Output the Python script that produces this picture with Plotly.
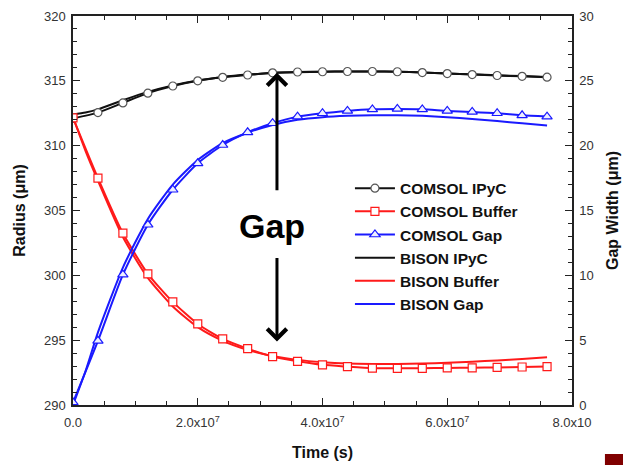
import plotly.graph_objects as go

# ---------------- data ----------------
time_comsol = [0.0, 0.4e7, 0.8e7, 1.2e7, 1.6e7, 2.0e7, 2.4e7, 2.8e7, 3.2e7, 3.6e7,
               4.0e7, 4.4e7, 4.8e7, 5.2e7, 5.6e7, 6.0e7, 6.4e7, 6.8e7, 7.2e7, 7.6e7]
comsol_ipyc = [312.1, 312.55, 313.3, 314.05, 314.6, 315.0, 315.27, 315.45, 315.62, 315.68,
               315.7, 315.72, 315.72, 315.7, 315.64, 315.56, 315.48, 315.41, 315.35, 315.28]
comsol_buffer = [312.15, 307.5, 303.25, 300.12, 297.95, 296.25, 295.1, 294.35, 293.73, 293.37,
                 293.1, 292.96, 292.84, 292.83, 292.83, 292.86, 292.87, 292.9, 292.93, 292.96]
comsol_gap = [0.2, 4.95, 10.05, 13.9, 16.6, 18.64, 20.05, 21.03, 21.73, 22.24,
              22.5, 22.68, 22.8, 22.83, 22.8, 22.68, 22.6, 22.5, 22.34, 22.24]

time_bison = [0.0, 0.2e7, 0.4e7, 0.8e7, 1.2e7, 1.6e7, 2.0e7, 2.4e7, 2.8e7, 3.2e7, 3.6e7,
              4.0e7, 4.4e7, 4.8e7, 5.2e7, 5.6e7, 6.0e7, 6.4e7, 6.8e7, 7.2e7, 7.6e7]
bison_ipyc = [312.4, 312.55, 312.8, 313.5, 314.15, 314.65, 315.03, 315.3, 315.48, 315.6, 315.67,
              315.7, 315.72, 315.72, 315.7, 315.65, 315.57, 315.5, 315.43, 315.37, 315.3]
bison_buffer = [312.2, 309.6, 307.3, 302.95, 299.8, 297.6, 296.0, 294.95, 294.25, 293.78, 293.48,
                293.3, 293.2, 293.17, 293.17, 293.2, 293.26, 293.34, 293.43, 293.54, 293.68]
bison_gap = [0.0, 2.6, 5.6, 10.6, 14.35, 17.0, 18.9, 20.2, 21.0, 21.6, 22.0,
             22.2, 22.3, 22.35, 22.35, 22.3, 22.2, 22.05, 21.9, 21.72, 21.56]

x_tickvals = [0, 2e7, 4e7, 6e7, 8e7]
x_ticktext = ["0.0", "2.0x10<sup>7</sup>", "4.0x10<sup>7</sup>", "6.0x10<sup>7</sup>", "8.0x10"]

# annotation anchor points (data coords)
arrow_x = 3.27e7
arrow_up = (315.63, 306.45)     # tip, tail
arrow_down = (294.9, 301.45)    # tip, tail
gap_label = (3.19e7, 303.8)

FONT = "Arial, Liberation Sans, sans-serif"
BLACK = "#111111"
RED = "#ff1a1a"
BLUE = "#1a1aff"

fig = go.Figure()

# BISON (plain lines) drawn first
fig.add_trace(go.Scatter(x=time_bison, y=bison_ipyc, mode="lines", name="<b>BISON IPyC</b>",
                         line=dict(color=BLACK, width=2, shape="spline", smoothing=0.6),
                         legendrank=4))
fig.add_trace(go.Scatter(x=time_bison, y=bison_buffer, mode="lines", name="<b>BISON Buffer</b>",
                         line=dict(color=RED, width=2, shape="spline", smoothing=0.6),
                         legendrank=5))
fig.add_trace(go.Scatter(x=time_bison, y=bison_gap, mode="lines", name="<b>BISON Gap</b>", yaxis="y2",
                         line=dict(color=BLUE, width=2, shape="spline", smoothing=0.6),
                         legendrank=6))

# COMSOL (lines + open markers)
fig.add_trace(go.Scatter(x=time_comsol, y=comsol_ipyc, mode="lines+markers", name="<b>COMSOL IPyC</b>",
                         line=dict(color=BLACK, width=2, shape="spline", smoothing=0.6),
                         marker=dict(symbol="circle", size=8, color="white",
                                     line=dict(color="#555555", width=1.2)),
                         legendrank=1))
fig.add_trace(go.Scatter(x=time_comsol, y=comsol_buffer, mode="lines+markers", name="<b>COMSOL Buffer</b>",
                         line=dict(color=RED, width=2, shape="spline", smoothing=0.6),
                         marker=dict(symbol="square", size=8, color="white",
                                     line=dict(color=RED, width=1.2)),
                         legendrank=2))
fig.add_trace(go.Scatter(x=time_comsol, y=comsol_gap, mode="lines+markers", name="<b>COMSOL Gap</b>", yaxis="y2",
                         line=dict(color=BLUE, width=2, shape="spline", smoothing=0.6),
                         marker=dict(symbol="triangle-up", size=9, color="#eef0ff",
                                     line=dict(color=BLUE, width=1.2)),
                         legendrank=3))

axis_common = dict(showline=True, linecolor="#222222", linewidth=1.5, showgrid=False,
                   zeroline=False, ticks="inside", ticklen=7, tickwidth=1.3, tickcolor="#222222",
                   tickfont=dict(family=FONT, size=13, color="#333333"), automargin=False)

fig.update_layout(
    width=623, height=465,
    margin=dict(l=73, r=51, t=16, b=60),
    paper_bgcolor="white", plot_bgcolor="white",
    font=dict(family=FONT),
    xaxis=dict(range=[0, 8e7], tickvals=x_tickvals, ticktext=x_ticktext, mirror="ticks",
               minor=dict(dtick=0.5e7, ticks="inside", ticklen=4, tickcolor="#222222"),
               title=dict(text="<b>Time (s)</b>", font=dict(family=FONT, size=16, color=BLACK),
                          standoff=17),
               ticklabelstandoff=5,
               **axis_common),
    yaxis=dict(range=[290, 320], dtick=5, tick0=290,
               minor=dict(dtick=1, ticks="inside", ticklen=4, tickcolor="#222222"),
               title=dict(text="<b>Radius (μm)</b>", font=dict(family=FONT, size=16, color=BLACK),
                          standoff=14),
               ticklabelstandoff=3,
               **axis_common),
    yaxis2=dict(range=[0, 30], dtick=5, tick0=0, overlaying="y", side="right",
                minor=dict(dtick=1, ticks="inside", ticklen=4, tickcolor="#222222"),
                title=dict(text="<b>Gap Width (μm)</b>", font=dict(family=FONT, size=16, color=BLACK),
                           standoff=14),
                ticklabelstandoff=3,
                **axis_common),
    legend=dict(x=0.555, y=0.60, xanchor="left", yanchor="top",
                bgcolor="rgba(255,255,255,0)", borderwidth=0,
                font=dict(family=FONT, size=15.5, color=BLACK), tracegroupgap=0,
                itemwidth=40),
    showlegend=True,
)

# arrows
fig.add_annotation(x=arrow_x, y=arrow_up[0], ax=arrow_x, ay=arrow_up[1], xref="x", yref="y",
                   axref="x", ayref="y", text="", showarrow=True, arrowhead=4, arrowsize=1.25,
                   arrowwidth=3, arrowcolor="black")
fig.add_annotation(x=arrow_x, y=arrow_down[0], ax=arrow_x, ay=arrow_down[1], xref="x", yref="y",
                   axref="x", ayref="y", text="", showarrow=True, arrowhead=4, arrowsize=1.25,
                   arrowwidth=3, arrowcolor="black")
fig.add_annotation(x=gap_label[0], y=gap_label[1], xref="x", yref="y", text="<b>Gap</b>",
                   showarrow=False, font=dict(family=FONT, size=34, color="black"))

# small dark-red corner fragment
fig.add_shape(type="rect", xref="paper", yref="paper", x0=1.066, x1=1.11, y0=-0.126, y1=-0.16,
              fillcolor="#800000", line=dict(width=0), layer="above")

fig.write_html("out.html")
